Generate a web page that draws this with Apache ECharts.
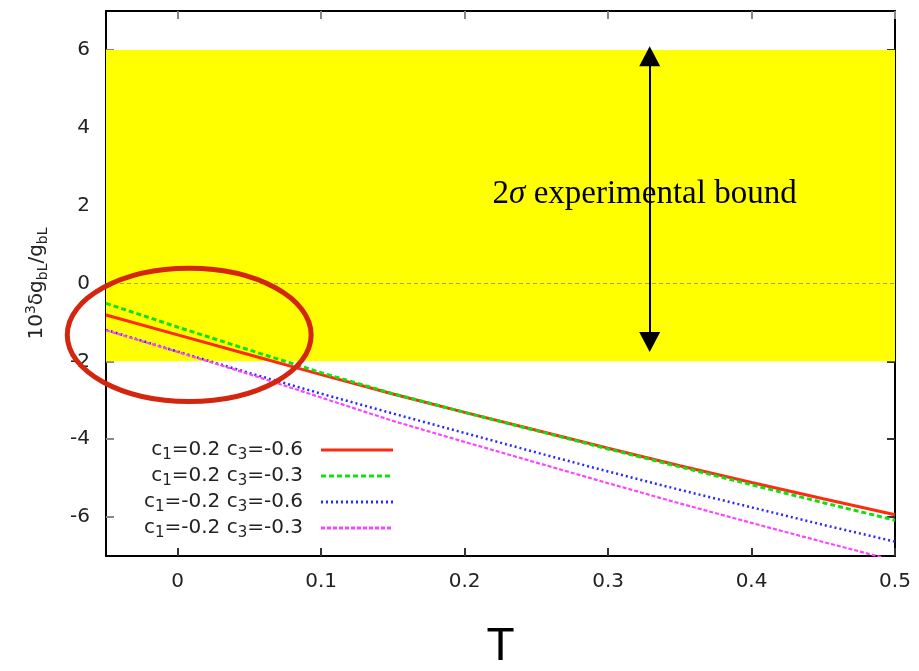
<!DOCTYPE html>
<html><head><meta charset="utf-8">
<script src="https://cdn.jsdelivr.net/npm/echarts@6/dist/echarts.min.js"></script>
<style>html,body{margin:0;padding:0;background:#fff}#c{width:919px;height:671px}</style>
</head><body><div id="c"></div>
<script>
// ---- data ----
const tValues      = [-0.05, 0, 0.05, 0.1, 0.15, 0.2, 0.25, 0.3, 0.35, 0.4, 0.45, 0.5];
const redValues    = [-0.81, -1.32, -1.83, -2.34, -2.84, -3.31, -3.77, -4.23, -4.68, -5.11, -5.53, -5.94];
const greenValues  = [-0.51, -1.12, -1.71, -2.29, -2.83, -3.31, -3.78, -4.25, -4.71, -5.17, -5.63, -6.08];
const blueValues   = [-1.19, -1.75, -2.30, -2.83, -3.34, -3.84, -4.34, -4.83, -5.30, -5.75, -6.20, -6.63];
const magentaValues= [-1.20, -1.76, -2.33, -2.93, -3.53, -4.07, -4.60, -5.13, -5.65, -6.15, -6.64, -7.12];
const c1Values = [0.2, 0.2, -0.2, -0.2];
const c3Values = [-0.6, -0.3, -0.6, -0.3];
const xTickLabels = ['0', '0.1', '0.2', '0.3', '0.4', '0.5'];
const xTicks = [0, 0.1, 0.2, 0.3, 0.4, 0.5];
const yTicks = [-6, -4, -2, 0, 2, 4, 6];
const xRange = [-0.05, 0.5];
const yRange = [-7, 7];
const bandRange = [-2, 6];
const arrowT = 0.329;
const arrowEnds = [5.84, -1.5];
const ellipseCenter = [0.008, -1.32];
const ellipseRadius = [0.085, 1.71];
const boundLabelAt = [0.2195, 2.28];

const seriesValues = [redValues, greenValues, blueValues, magentaValues];
const seriesNames = c1Values.map((c1, i) => 'c1=' + c1 + ' c3=' + c3Values[i]);
const colors = ['#ff2a10', '#10e010', '#2a2aff', '#ff44ff'];
const lineTypes = ['solid', [5, 3], [2, 3], [4, 2]];
const lineWidths = [3, 3, 2.5, 2.2];

const chart = echarts.init(document.getElementById('c'));
const labelFont = 'DejaVu Sans';

const dataSeries = seriesValues.map((vals, i) => ({
  name: seriesNames[i],
  type: 'line',
  symbol: 'none',
  smooth: false,
  z: 5,
  clip: true,
  data: tValues.map((t, k) => [t, vals[k]]),
  lineStyle: { color: colors[i], width: lineWidths[i], type: lineTypes[i] },
  itemStyle: { color: colors[i] },
  emphasis: { disabled: true }
}));

const option = {
  backgroundColor: '#fff',
  animation: false,
  grid: { left: 106, top: 11, right: 24, bottom: 115, containLabel: false, outerBoundsMode: 'none' },
  xAxis: [{
    type: 'value', min: xRange[0], max: xRange[1], interval: 0.05,
    position: 'bottom',
    name: 'T', nameLocation: 'middle', nameGap: 68,
    nameTextStyle: { fontFamily: 'Liberation Sans', fontSize: 46, color: '#000' },
    axisLine: { show: true, onZero: false, lineStyle: { color: '#000', width: 2 } },
    axisTick: { show: true, inside: true, length: 8, customValues: xTicks, lineStyle: { color: '#333', width: 2 } },
    axisLabel: { show: true, customValues: xTicks, margin: 16, fontFamily: labelFont, fontSize: 20, color: '#222',
      formatter: v => { const i = xTicks.findIndex(x => Math.abs(x - v) < 1e-9); return i >= 0 ? xTickLabels[i] : ''; } },
    splitLine: { show: false }
  }, {
    type: 'value', min: xRange[0], max: xRange[1], interval: 0.05,
    position: 'top',
    axisLine: { show: true, onZero: false, lineStyle: { color: '#000', width: 2 } },
    axisTick: { show: true, inside: true, length: 8, customValues: xTicks, lineStyle: { color: '#888', width: 2 } },
    axisLabel: { show: false }, splitLine: { show: false }
  }],
  yAxis: [{
    type: 'value', min: yRange[0], max: yRange[1], interval: 1,
    position: 'left',
    name: '{n|10}{sup|3}{n|δg}{sb|bL}{n|/g}{sb|bL}',
    nameLocation: 'middle', nameRotate: 90, nameGap: 56,
    nameTextStyle: {
      rich: {
        n: { fontFamily: labelFont, fontSize: 20, color: '#222', lineHeight: 26 },
        sup: { fontFamily: labelFont, fontSize: 14, color: '#222', lineHeight: 14, verticalAlign: 'top' },
        sb: { fontFamily: labelFont, fontSize: 14, color: '#222', lineHeight: 14, verticalAlign: 'bottom' }
      }
    },
    axisLine: { show: true, onZero: false, lineStyle: { color: '#000', width: 2 } },
    axisTick: { show: true, inside: true, length: 8, customValues: yTicks, lineStyle: { color: '#888', width: 2 } },
    axisLabel: { show: true, customValues: yTicks, margin: 16, fontFamily: labelFont, fontSize: 20, color: '#222' },
    splitLine: { show: false }
  }, {
    type: 'value', min: yRange[0], max: yRange[1], interval: 1,
    position: 'right',
    axisLine: { show: true, onZero: false, lineStyle: { color: '#000', width: 2 } },
    axisTick: { show: true, inside: true, length: 8, customValues: yTicks, lineStyle: { color: '#333', width: 2 } },
    axisLabel: { show: false }, splitLine: { show: false }
  }],
  legend: {
    data: seriesNames,
    orient: 'vertical',
    align: 'right',
    left: 139, top: 435,
    itemWidth: 72, itemHeight: 14, itemGap: 3,
    selectedMode: false,
    itemStyle: { opacity: 0 },
    lineStyle: { width: 3 },
    formatter: name => {
      const i = seriesNames.indexOf(name);
      return '{t|c}{s|1}{t|=' + c1Values[i] + ' c}{s|3}{t|=' + c3Values[i] + '}{g| }';
    },
    textStyle: {
      width: 180,
      rich: {
        t: { fontFamily: labelFont, fontSize: 20, color: '#222', lineHeight: 26 },
        s: { fontFamily: labelFont, fontSize: 15, color: '#222', lineHeight: 15, verticalAlign: 'bottom' },
        g: { width: 13, fontSize: 10 }
      }
    }
  },
  series: [{
    type: 'line', data: [], z: 1, silent: true,
    markArea: {
      silent: true,
      itemStyle: { color: '#ffff00', opacity: 1 },
      data: [[{ yAxis: bandRange[0] }, { yAxis: bandRange[1] }]]
    },
    markLine: {
      silent: true, symbol: 'none', label: { show: false },
      lineStyle: { color: '#a3a060', width: 1.2, type: [4, 3] },
      data: [{ yAxis: 0 }]
    }
  }, {
    type: 'line', data: [], z: 6, silent: true,
    markLine: {
      silent: true, symbol: ['triangle', 'triangle'], symbolSize: [21, 20],
      label: { show: false },
      lineStyle: { color: '#000', width: 2, type: 'solid' },
      data: [[{ coord: [arrowT, arrowEnds[0]] }, { coord: [arrowT, arrowEnds[1]] }]]
    }
  }].concat(dataSeries)
};
chart.setOption(option);

// annotations placed from data coordinates
const toPx = p => chart.convertToPixel({ xAxisIndex: 0, yAxisIndex: 0 }, p);
const c = toPx(ellipseCenter);
const ex = toPx([ellipseCenter[0] + ellipseRadius[0], ellipseCenter[1] + ellipseRadius[1]]);
const lbl = toPx(boundLabelAt);
chart.setOption({
  graphic: [{
    type: 'ellipse', silent: true, z: 100,
    shape: { cx: c[0], cy: c[1], rx: Math.abs(ex[0] - c[0]), ry: Math.abs(ex[1] - c[1]) },
    style: { fill: 'none', stroke: '#d4260e', lineWidth: 5 }
  }, {
    type: 'text', silent: true, z: 50,
    x: lbl[0], y: lbl[1],
    style: {
      text: '{a|2}{b|σ}{a| experimental bound}',
      verticalAlign: 'middle', align: 'left',
      rich: {
        a: { fontFamily: 'Liberation Serif', fontSize: 33, fill: '#000' },
        b: { fontFamily: 'Liberation Serif', fontSize: 33, fontStyle: 'italic', fill: '#000' }
      }
    }
  }]
});
</script>
</body></html>
